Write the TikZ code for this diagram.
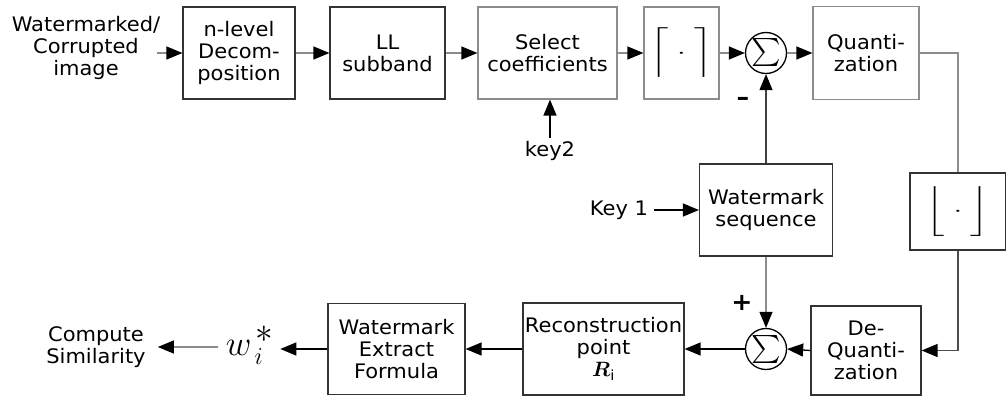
\documentclass[tikz,border=0pt]{standalone}
\usepackage{amsmath}
\usepackage{graphicx}
\usepackage{fontspec}
\setmainfont[FakeStretch=1.05]{DejaVu Sans}
\usetikzlibrary{arrows.meta}
\begin{document}
\begin{tikzpicture}[x=1pt,y=-1pt,
  every node/.style={font=\fontsize{20}{22}\selectfont, align=center, inner sep=0pt},
  blk/.style={draw=black!80, line width=1.2pt},
  lblk/.style={blk, draw=black!45},
  sumc/.style={circle, draw=black, line width=1.3pt, minimum size=41pt},
  arr/.style={line width=1.3pt, -{Triangle[length=16pt,width=13pt,color=black]}},
  larr/.style={arr, draw=black!45},
]
\useasboundingbox (0,0) rectangle (1006,396);
% top row
\node (in) at (86,48) {Watermarked/\\Corrupted\\image};
\coordinate (inarr) at (157,53);
\node[blk, minimum width=112pt, minimum height=92pt] (b1) at (239,53) {n-level\\Decom-\\position};
\node[blk, minimum width=115pt, minimum height=92pt] (b2) at (387.5,53) {LL\\subband};
\node[lblk, minimum width=139pt, minimum height=92pt] (b3) at (547.5,53) {Select\\coefficients};
\node[lblk, minimum width=75pt, minimum height=92pt] (b4) at (681.5,53) {\scalebox{1.5}[1]{$\left\lceil\vphantom{\rule[-18pt]{0pt}{36pt}}\;\cdot\;\right\rceil$}};
\node[sumc] (s1) at (766,53) {\scalebox{1.35}{$\sum$}};
\node[lblk, minimum width=106pt, minimum height=93pt] (q) at (866,53) {Quanti-\\zation};
\node[font=\bfseries\fontsize{24}{24}\selectfont] (minus) at (743,101) {--};
% middle
\node (k2) at (550,151) {key2};
\node (k1) at (619,210) {Key 1};
\node[blk, minimum width=133pt, minimum height=92pt] (wm) at (766,210) {Watermark\\sequence};
\node[blk, minimum width=96pt, minimum height=77pt] (fl) at (958,211.5) {\scalebox{1.5}[1]{$\left\lfloor\vphantom{\rule[-17pt]{0pt}{34pt}}\;\cdot\;\right\rfloor$}};
% bottom row
\node[font=\bfseries\fontsize{24}{24}\selectfont] (plus) at (742,303) {+};
\node[blk, minimum width=110pt, minimum height=89pt] (dq) at (866,350.5) {De-\\Quanti-\\zation};
\node[sumc] (s2) at (766,349) {\scalebox{1.35}{$\sum$}};
\node[blk, minimum width=161pt, minimum height=92pt] (rc) at (603.5,349) {Reconstruction\\point\\$\boldsymbol{R}_{\mathrm{i}}$};
\node[blk, minimum width=137pt, minimum height=91pt] (ex) at (396.5,349) {Watermark\\Extract\\Formula};
\node (w) at (250,345) {\scalebox{1.7}{$w^{\,\textstyle *}_{\,i}$}};
\node (cs) at (96,347) {Compute\\Similarity};
% connectors
\draw[larr] (inarr) -- (b1.west);
\draw[larr] (b1.east) -- (b2.west);
\draw[larr] (b2.east) -- (b3.west);
\draw[larr] (b3.east) -- (b4.west);
\draw[larr] (b4.east) -- (s1.west);
\draw[larr] (s1.east) -- (q.west);
\draw[line width=1.2pt, black!45] (q.east) -| (fl.north);
\draw[arr, draw=black!75] (wm.north) -- (s1.south);
\draw[larr] (wm.south) -- (s2.north);
\draw[arr, shorten <=6pt] (k1.east) -- (wm.west);
\draw[arr, shorten <=3pt] (k2.north) -- (k2.north |- b3.south);
\draw[arr, draw=black!70] (fl.south) |- (dq.east);
\draw[arr] (dq.west) -- (s2.east);
\draw[arr] (s2.west) -- (rc.east);
\draw[arr] (rc.west) -- (ex.east);
\draw[arr] (ex.west) -- ([xshift=6pt]ex.west -| w.east);
\draw[larr, shorten <=8pt, shorten >=12pt] (w.west |- cs.east) -- (cs.east);
\end{tikzpicture}
\end{document}
